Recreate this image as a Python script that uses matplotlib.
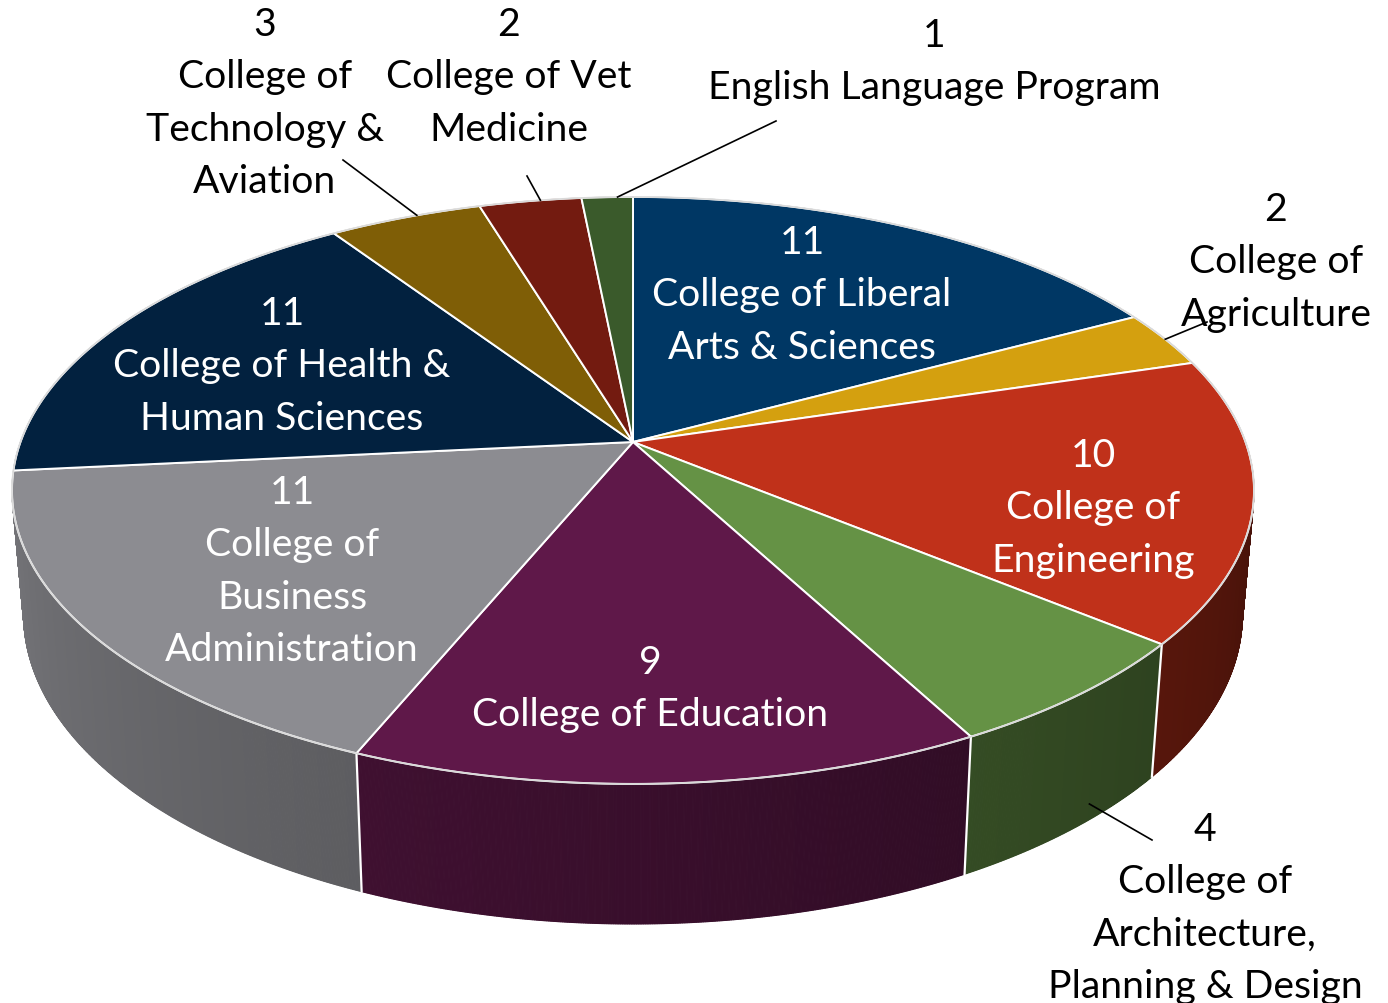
import matplotlib
matplotlib.use("Agg")
import matplotlib.pyplot as plt
from matplotlib.patches import Polygon
import numpy as np

# slices, clockwise from 12 o'clock
colleges = [
    "College of Liberal\nArts & Sciences",
    "College of\nAgriculture",
    "College of\nEngineering",
    "College of\nArchitecture,\nPlanning & Design",
    "College of Education",
    "College of\nBusiness\nAdministration",
    "College of Health &\nHuman Sciences",
    "College of\nTechnology &\nAviation",
    "College of Vet\nMedicine",
    "English Language Program",
]
counts = [11, 2, 10, 4, 9, 11, 11, 3, 2, 1]
colors = ["#003764", "#d4a00f", "#c0311a", "#659245", "#5f1849",
          "#8c8c91", "#02213f", "#7f5e06", "#731b10", "#3a5a2b"]

# label layout: (center x, first line y, text color, leader line or None)
# leader: (text-side x, y, angle fraction in slice, wall fraction)
layout = [
    (802, 240, "white", None),
    (1276, 207, "black", (1207, 323, 0.5, 0.0)),
    (1093, 453, "white", None),
    (1205, 827, "black", (1152, 841, 0.4, 0.88)),
    (650, 660, "white", None),
    (292, 490, "white", None),
    (282, 311, "white", None),
    (265, 22, "black", (343, 161, 0.58, 0.0)),
    (509, 22, "black", (527, 177, 0.6, 0.0)),
    (934, 33, "black", (776, 122, 0.7, 0.0)),
]

# projected pie geometry (pixels)
cx, cy = 633, 443
A, B, k = 612.5, 285.5, 0.165
Ab, y0b, Bb = 601, 564.5, 301


def top_pt(phi):
    u, v = np.sin(phi), -np.cos(phi)
    w = 1 - k * v
    return cx + A * u / w, cy + B * v / w


def bot_pt(phi):
    u, v = np.sin(phi), -np.cos(phi)
    w = 1 - k * v
    return cx + Ab * u / w, y0b + Bb * v / w


def shade(color, phi):
    deg = np.degrees(phi) % 360
    f = np.clip(0.34 + 0.52 * (deg - 90) / 180, 0.3, 0.9)
    rgb = np.array(matplotlib.colors.to_rgb(color))
    return tuple(rgb * f)


fig = plt.figure(figsize=(13.88, 10.04), dpi=100)
ax = fig.add_axes([0, 0, 1, 1])
ax.set_xlim(0, 1388)
ax.set_ylim(1004, 0)
ax.axis("off")

total = sum(counts)
bounds = np.concatenate([[0], np.cumsum(counts)]) / total * 2 * np.pi

# side walls, painted far to near
quads = []
for i in range(len(counts)):
    n = max(8, int(counts[i] * 40))
    ph = np.linspace(bounds[i], bounds[i + 1], n + 1)
    for a, b in zip(ph[:-1], ph[1:]):
        m = 0.5 * (a + b)
        quads.append((-np.cos(m), [top_pt(a), top_pt(b), bot_pt(b), bot_pt(a)],
                      shade(colors[i], m)))
quads.sort(key=lambda q: q[0])
for _, pts, c in quads:
    ax.add_patch(Polygon(pts, closed=True, facecolor=c, edgecolor=c, lw=0.8))

# white seams on the front walls
for b in bounds[1:-1]:
    if -np.cos(b) > k:
        (x1, y1), (x2, y2) = top_pt(b), bot_pt(b)
        ax.plot([x1, x2], [y1, y2], color="white", lw=1.6)

# top surface
for i in range(len(counts)):
    ph = np.linspace(bounds[i], bounds[i + 1], 200)
    pts = [(cx, cy)] + [top_pt(p) for p in ph]
    ax.add_patch(Polygon(pts, closed=True, facecolor=colors[i],
                         edgecolor="white", lw=1.4, joinstyle="round"))
ring = np.linspace(0, 2 * np.pi, 600)
ax.plot(*zip(*[top_pt(p) for p in ring]), color="#d9d9d9", lw=1.2)

# labels
font = ["Lato", "DejaVu Sans"]
size = 28.2
pitch = 52.3
for i, (x, y, tc, lead) in enumerate(layout):
    lines = [str(counts[i])] + colleges[i].split("\n")
    for j, line in enumerate(lines):
        ax.text(x, y + j * pitch + 14, line, ha="center", va="baseline",
                fontsize=size, color=tc, family=font)
    if lead is not None:
        tx, ty, fr, wf = lead
        phi = bounds[i] + fr * (bounds[i + 1] - bounds[i])
        (x1, y1), (x2, y2) = top_pt(phi), bot_pt(phi)
        px, py = x1 + wf * (x2 - x1), y1 + wf * (y2 - y1)
        ax.plot([tx, px], [ty, py], color="black", lw=1.2)

fig.savefig("out.png", dpi=100)
